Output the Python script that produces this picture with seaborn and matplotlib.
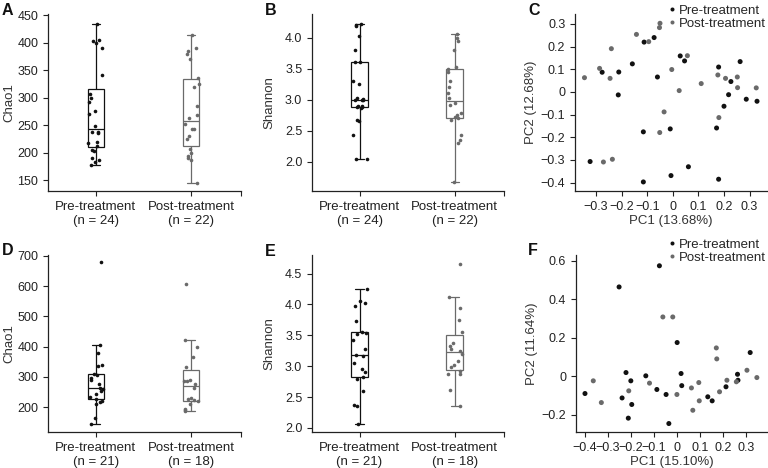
import numpy as np
import pandas as pd
import matplotlib.pyplot as plt
import seaborn as sns

# groups / colours
groups = ['Pre-treatment', 'Post-treatment']
pre_color = '#111111'
post_color = '#6a6a6a'

# A: Chao1, first cohort
chao_a_pre = [434, 405, 403, 400, 390, 341, 307, 300, 292, 276, 270, 248,
              237, 237, 236, 220, 218, 212, 205, 203, 190, 186, 183, 178]
chao_a_post = [413, 390, 385, 380, 370, 336, 325, 320, 285, 268, 262,
               252, 242, 242, 230, 225, 207, 200, 193, 190, 186, 145]

# B: Shannon, first cohort
shan_b_pre = [4.22, 4.2, 4.18, 4.02, 3.8, 3.6, 3.6, 3.3, 3.25, 3.02, 3.01, 3.0,
              3.0, 2.9, 2.9, 2.88, 2.88, 2.87, 2.68, 2.65, 2.43, 2.05, 2.04, 3.0]
shan_b_post = [4.05, 4.0, 3.95, 3.8, 3.52, 3.5, 3.45, 3.3, 3.2, 3.1, 3.02,
               2.95, 2.92, 2.78, 2.75, 2.72, 2.7, 2.68, 2.43, 2.35, 2.3, 1.68]

# D: Chao1, second cohort
chao_d_pre = [680, 405, 378, 340, 335, 310, 308, 295, 290, 275, 265,
              260, 255, 245, 235, 226, 222, 218, 212, 165, 145]
chao_d_post = [608, 422, 400, 365, 332, 290, 285, 285, 275, 265,
               230, 228, 225, 220, 210, 195, 190, 188]

# E: Shannon, second cohort
shan_e_pre = [4.25, 4.05, 4.02, 3.97, 3.73, 3.55, 3.53, 3.52, 3.43, 3.28, 3.18,
              3.17, 3.05, 2.95, 2.9, 2.82, 2.8, 2.6, 2.37, 2.35, 2.07]
shan_e_post = [4.65, 4.12, 3.95, 3.75, 3.55, 3.37, 3.33, 3.28, 3.25,
               3.2, 3.08, 3.02, 2.98, 2.92, 2.88, 2.87, 2.62, 2.36]

# C: PCoA, first cohort
pc_c_pre_x = [-0.073, -0.112, -0.158, 0.029, 0.046, -0.276, -0.211, -0.06,
              -0.213, 0.179, 0.263, 0.227, 0.218, 0.2, 0.287, 0.329, 0.171,
              -0.115, -0.01, -0.323, 0.061, -0.007, -0.115, 0.179]
pc_c_pre_y = [0.24, 0.22, 0.124, 0.159, 0.137, 0.087, 0.088, 0.066,
              -0.013, 0.11, 0.134, 0.046, -0.012, -0.063, -0.032, -0.041, -0.159,
              -0.176, -0.163, -0.307, -0.33, -0.369, -0.397, -0.385]
pc_c_post_x = [-0.05, -0.052, -0.142, -0.094, -0.24, -0.286, -0.245, -0.345,
               -0.004, 0.057, 0.025, 0.111, 0.176, 0.206, 0.252, 0.253, 0.326,
               0.18, -0.034, -0.051, -0.271, -0.236]
pc_c_post_y = [0.303, 0.284, 0.254, 0.222, 0.191, 0.104, 0.06, 0.063,
               0.099, 0.16, 0.006, 0.037, 0.075, 0.06, 0.066, 0.019, 0.018,
               -0.113, -0.088, -0.179, -0.309, -0.297]

# F: PCoA, second cohort
pc_f_pre_x = [-0.077, -0.252, 0.0, 0.317, -0.222, -0.136, -0.201, 0.017, 0.02,
              -0.088, -0.048, -0.4, -0.239, -0.197, -0.212, -0.036, 0.133, 0.152,
              0.212, 0.262, 0.264]
pc_f_pre_y = [0.574, 0.464, 0.175, 0.123, 0.019, 0.002, -0.024, 0.014, -0.049,
              -0.069, -0.095, -0.09, -0.113, -0.147, -0.218, -0.246, -0.107, -0.128,
              -0.055, 0.01, -0.021]
pc_f_post_x = [-0.062, -0.019, 0.17, 0.172, -0.364, -0.329, -0.12, -0.21, -0.001,
               0.062, 0.094, 0.096, 0.068, 0.184, 0.216, 0.257, 0.303, 0.346]
pc_f_post_y = [0.308, 0.308, 0.147, 0.09, -0.024, -0.137, -0.036, -0.076, -0.095,
               -0.061, -0.033, -0.128, -0.177, -0.081, -0.021, -0.029, 0.031, -0.007]

sns.set_style('ticks')
plt.rcParams['font.family'] = ['Liberation Sans', 'DejaVu Sans']
plt.rcParams['font.size'] = 9
plt.rcParams['axes.edgecolor'] = '#222222'
plt.rcParams['xtick.color'] = '#222222'
plt.rcParams['ytick.color'] = '#222222'
plt.rcParams['axes.linewidth'] = 0.9
np.random.seed(3)

fig = plt.figure(figsize=(7.68, 4.68), dpi=100)
W, H = 768, 468


def add_ax(left, top, right, bottom):
    return fig.add_axes([left / W, 1 - bottom / H, (right - left) / W, (bottom - top) / H])


def box_panel(ax, pre, post, ylabel, ylim, yticks, yfmt, ylab_x):
    df = pd.DataFrame({
        'group': [groups[0]] * len(pre) + [groups[1]] * len(post),
        'value': list(pre) + list(post),
    })
    for g, c in zip(groups, [pre_color, post_color]):
        sub = df[df['group'] == g]
        sns.boxplot(data=sub, x='group', y='value', order=groups, ax=ax,
                    width=0.17, color='white', linecolor=c, linewidth=0.9,
                    showfliers=False)
        sns.stripplot(data=sub, x='group', y='value', order=groups, ax=ax,
                      color=c, size=2.6, jitter=0.08)
    ax.set_xlim(-0.5, 1.52)
    ax.set_ylim(*ylim)
    ax.set_yticks(yticks)
    ax.set_yticklabels([yfmt.format(t) for t in yticks])
    n_pre, n_post = len(pre), len(post)
    ax.set_xticks([0, 1])
    ax.set_xticks([1.52], minor=True)
    ax.set_xticklabels([f'{groups[0]}\n(n = {n_pre})', f'{groups[1]}\n(n = {n_post})'],
                       fontsize=9.5)
    ax.set_xlabel('')
    ax.set_ylabel(ylabel, fontsize=9.5, color='#333333')
    ax.yaxis.set_label_coords(ylab_x, 0.5)
    ax.tick_params(which='both', length=3.5, width=0.8, labelsize=9)
    ax.tick_params(axis='x', labelsize=9.5)
    sns.despine(ax=ax)


def pca_panel(ax, pre_x, pre_y, post_x, post_y, xlabel, ylabel, xlim, ylim,
              xticks, yticks, legend_y):
    df = pd.DataFrame({
        'PC1': list(pre_x) + list(post_x),
        'PC2': list(pre_y) + list(post_y),
        'group': [groups[0]] * len(pre_x) + [groups[1]] * len(post_x),
    })
    sns.scatterplot(data=df, x='PC1', y='PC2', hue='group', hue_order=groups,
                    palette=[pre_color, post_color], s=13, linewidth=0, ax=ax)
    ax.set_xlim(*xlim)
    ax.set_ylim(*ylim)
    ax.set_xticks(xticks)
    ax.set_xticklabels(['0' if abs(t) < 1e-9 else f'{t:g}'.replace('-', '\u2212') for t in xticks])
    ax.set_yticks(yticks)
    ax.set_yticklabels(['0' if abs(t) < 1e-9 else f'{t:g}'.replace('-', '\u2212') for t in yticks])
    ax.set_xlabel(xlabel, fontsize=9.5, color='#333333', labelpad=1.5)
    ax.set_ylabel(ylabel, fontsize=9.5, color='#333333')
    ax.yaxis.set_label_coords(-0.198, 0.5)
    ax.tick_params(length=3.5, width=0.8, labelsize=9)
    ax.legend(loc='upper right', bbox_to_anchor=(1.03, legend_y), frameon=False,
              fontsize=9.5, handletextpad=0.05, labelspacing=0.05, borderpad=0,
              handlelength=1.0, markerscale=0.8)
    sns.despine(ax=ax)


axA = add_ax(48, 14, 241, 191)
box_panel(axA, chao_a_pre, chao_a_post, 'Chao1', (130, 452),
          [150, 200, 250, 300, 350, 400, 450], '{:g}', -0.171)
axB = add_ax(312, 14, 504, 191)
box_panel(axB, shan_b_pre, shan_b_post, 'Shannon', (1.53, 4.38),
          [2.0, 2.5, 3.0, 3.5, 4.0], '{:.1f}', -0.193)
axC = add_ax(575, 14, 767, 191)
pca_panel(axC, pc_c_pre_x, pc_c_pre_y, pc_c_post_x, pc_c_post_y,
          'PC1 (13.68%)', 'PC2 (12.68%)', (-0.382, 0.368), (-0.437, 0.344),
          [-0.3, -0.2, -0.1, 0, 0.1, 0.2, 0.3],
          [-0.4, -0.3, -0.2, -0.1, 0, 0.1, 0.2, 0.3], 1.09)

axD = add_ax(48, 255, 241, 432)
box_panel(axD, chao_d_pre, chao_d_post, 'Chao1', (118, 703),
          [200, 300, 400, 500, 600, 700], '{:g}', -0.171)
axE = add_ax(312, 255, 504, 432)
box_panel(axE, shan_e_pre, shan_e_post, 'Shannon', (1.935, 4.8),
          [2.0, 2.5, 3.0, 3.5, 4.0, 4.5], '{:.1f}', -0.193)
axF = add_ax(576, 255, 767, 432)
pca_panel(axF, pc_f_pre_x, pc_f_pre_y, pc_f_post_x, pc_f_post_y,
          'PC1 (15.10%)', 'PC2 (11.64%)', (-0.439, 0.39), (-0.29, 0.63),
          [-0.4, -0.3, -0.2, -0.1, 0, 0.1, 0.2, 0.3],
          [-0.2, 0, 0.2, 0.4, 0.6], 1.13)

# panel letters
for letter, (x, y) in zip('ABCDEF', [(2, 3), (265, 3), (528, 3),
                                     (2, 243), (265, 244), (528, 243)]):
    fig.text(x / W, 1 - y / H, letter, fontsize=11.5, fontweight='bold',
             va='top', ha='left', color='#111111')

fig.savefig('out.png', dpi=100)
